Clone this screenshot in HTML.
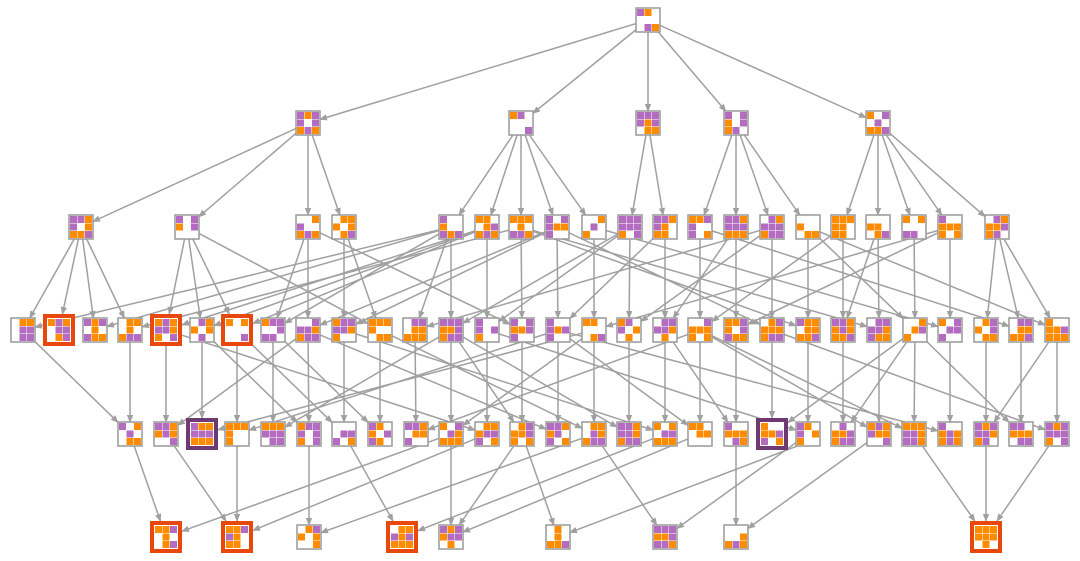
<!DOCTYPE html>
<html><head><meta charset="utf-8"><style>html,body{margin:0;background:#fff}svg{display:block}</style></head>
<body>
<svg id="s" width="1080" height="561" xmlns="http://www.w3.org/2000/svg">
<defs><marker id="a" markerWidth="8" markerHeight="8" refX="7" refY="4" orient="auto" markerUnits="userSpaceOnUse"><path d="M0,0.8 L8,4 L0,7.2 z" fill="#a0a0a0"/></marker></defs>
<g id="e"></g><g id="n"></g>
</svg>
<script>
var rows=[
 {y:20,x:[648]},
 {y:123,x:[308,521,648,736,878]},
 {y:227,x:[81,187,308,344,451,487,521,557,594,630,665,700,736,772,808,843,878,914,950,997]},
 {y:330,x:[23,59,95,130,166,202,237,273,308,344,380,415,451,487,522,558,594,629,665,700,736,772,808,843,879,915,950,986,1021,1057]},
 {y:434,x:[130,166,202,237,273,309,344,380,416,451,487,522,558,594,629,665,700,736,772,808,843,879,914,950,986,1021,1057]},
 {y:537,x:[166,237,309,402,451,558,665,736,986]}
];
var special={"3_59":"r","3_166":"r","3_237":"r","4_202":"p","4_772":"p","5_166":"r","5_237":"r","5_402":"r","5_986":"r"};
var seed=7;function rnd(){seed=(seed*16807)%2147483647;return seed/2147483647;}
var E=[];
rows[1].x.forEach(function(x){E.push([0,648,1,x]);});
var m={308:[81,187,308,344],521:[451,487,521,557,594],648:[630,665],736:[700,736,772,808],878:[843,878,914,950,997]};
for(var k in m)m[k].forEach(function(x){E.push([1,+k,2,x]);});
[[2,3],[3,4]].forEach(function(p){
 var par=rows[p[0]].x;
 rows[p[1]].x.forEach(function(x){
  var near=par.reduce(function(a,b){return Math.abs(b-x)<Math.abs(a-x)?b:a;});
  E.push([p[0],near,p[1],x]);
  var far=par[Math.floor(rnd()*par.length)];
  if(Math.abs(far-x)<420&&far!=near)E.push([p[0],far,p[1],x]);
  else{var f2=par[Math.max(0,Math.min(par.length-1,par.indexOf(near)+(rnd()<.5?-3:4)))];if(f2!=near)E.push([p[0],f2,p[1],x]);}
 });
});
var r5={166:[130,451],237:[237,166,487],309:[309,594],402:[344,665],451:[451,522,700],558:[522,829],665:[594,808],736:[736,879],986:[914,986,1057]};
for(var k in r5)r5[k].forEach(function(x){E.push([4,x,5,+k]);});
var ns="http://www.w3.org/2000/svg",ge=document.getElementById('e'),gn=document.getElementById('n');
function half(r,x){var s=special[r+"_"+x];return s?16:12;}
E.forEach(function(d){
 var y1=rows[d[0]].y,y2=rows[d[2]].y,x1=d[1],x2=d[3];
 var h1=half(d[0],x1),h2=half(d[2],x2);
 var dx=x2-x1,dy=y2-y1;
 var ax=Math.abs(dx)||1e-9,ay=Math.abs(dy);
 var t1=Math.min(h1/ax,h1/ay),t2=Math.min(h2/ax,h2/ay);
 var l=document.createElementNS(ns,'line');
 l.setAttribute('x1',x1+dx*t1);l.setAttribute('y1',y1+dy*t1);
 l.setAttribute('x2',x2-dx*t2);l.setAttribute('y2',y2-dy*t2);
 l.setAttribute('stroke','#a0a0a0');l.setAttribute('stroke-width','1.5');l.setAttribute('marker-end','url(#a)');
 ge.appendChild(l);
});
var cols=['#b36cc0','#ff8c00','#fff'];
function rect(x,y,w,h,f,st){var r=document.createElementNS(ns,'rect');r.setAttribute('x',x);r.setAttribute('y',y);r.setAttribute('width',w);r.setAttribute('height',h);r.setAttribute('fill',f);if(st){r.setAttribute('stroke',st);r.setAttribute('stroke-width','1.5');}gn.appendChild(r);}
rows.forEach(function(row,ri){
 row.x.forEach(function(x){
  var y=row.y,s=special[ri+"_"+x];
  if(s){rect(x-16,y-16,32,32,s=='r'?'#e8480c':'#6f3a72');}
  rect(x-12,y-12,24,24,'#fff',s?null:'#999');
  for(var i=0;i<3;i++)for(var j=0;j<3;j++){
   var v=rnd(),c=v<.33?cols[0]:v<.72?cols[1]:cols[2];
   if(ri==0)c=(i==0&&j<2)?cols[j]:(i==2&&j>0)?cols[j-1]:'#fff';
   rect(x-11+j*7.5,y-11+i*7.5,7,7,c);
  }
 });
});
</script>
</body></html>
